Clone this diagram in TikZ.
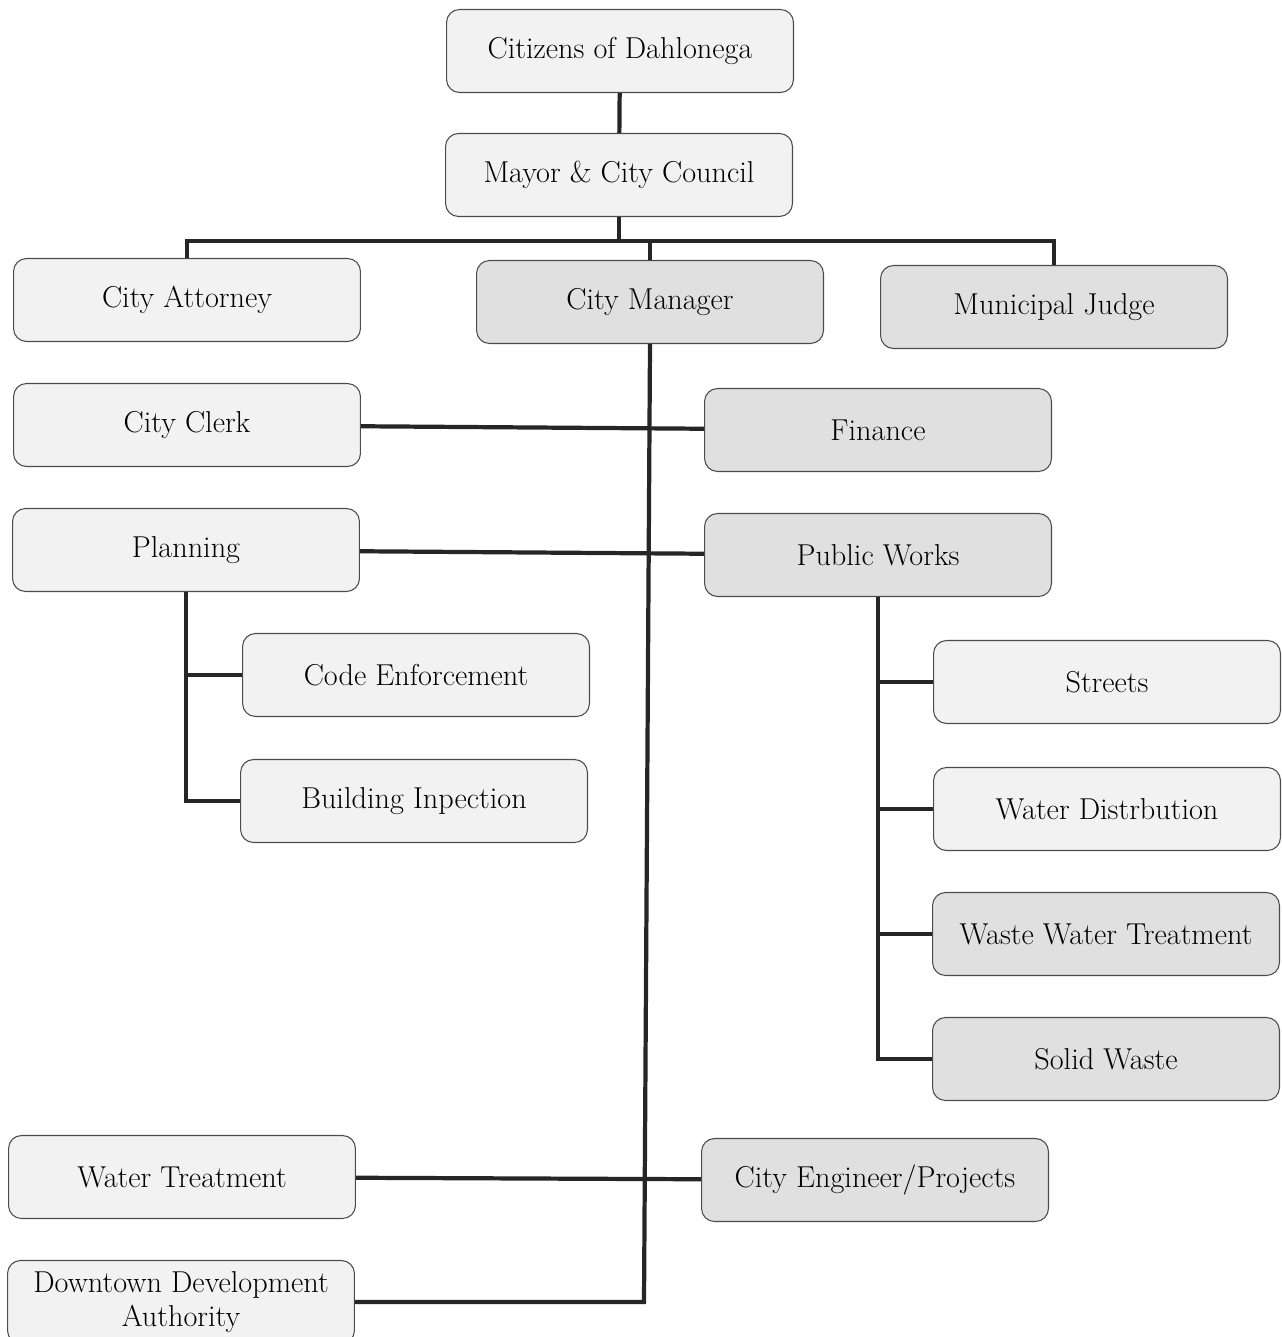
\documentclass[tikz,border=0pt]{standalone}
\usepackage{tikz}

\begin{document}
\begin{tikzpicture}[x=0.02cm, y=-0.02cm,
    unit/.style={draw=black!70, line width=0.6pt, rounded corners=0.26cm,
        minimum width=6.94cm, minimum height=1.66cm, align=center,
        font=\fontsize{17.2}{19}\selectfont},
    pale/.style={unit, fill=black!5},
    dense/.style={unit, fill=black!12},
    link/.style={line width=2.4pt, black!85}]
    \useasboundingbox (0,0) rectangle (1281,1337);

    \node[pale] (cit) at (620, 51) {Citizens of Dahlonega};
    \node[pale] (mayor) at (619, 175) {Mayor \& City Council};
    \node[pale] (att) at (187, 300) {City Attorney};
    \node[dense] (cm) at (650, 302) {City Manager};
    \node[dense] (judge) at (1054, 307) {Municipal Judge};
    \node[pale] (clerk) at (187, 425) {City Clerk};
    \node[dense] (fin) at (878, 430) {Finance};
    \node[pale] (plan) at (186, 550) {Planning};
    \node[dense] (pw) at (878, 555) {Public Works};
    \node[pale] (code) at (416, 675) {Code Enforcement};
    \node[pale] (bldg) at (414, 801) {Building Inpection};
    \node[pale] (str) at (1107, 682) {Streets};
    \node[pale] (wdist) at (1107, 809) {Water Distrbution};
    \node[dense] (wwt) at (1106, 934) {Waste Water Treatment};
    \node[dense] (solid) at (1106, 1059) {Solid Waste};
    \node[pale] (wtr) at (182, 1177) {Water Treatment};
    \node[dense] (eng) at (875, 1180) {City Engineer/Projects};
    \node[pale] (dda) at (181, 1302) {Downtown Development\\Authority};

    \coordinate (bus) at (619, 241);
    \coordinate (trunk) at (644, 1302);

    \draw[link] (cit) -- (mayor);
    \draw[link] (mayor) -- (bus);
    \draw[link] (att.north) |- (bus) -| (judge.north);
    \draw[link] (bus -| cm.north) -- (cm.north);
    \draw[link] (cm.south) -- (trunk) -- (dda.east);

    \draw[link] (clerk) -- (fin);
    \draw[link] (plan) -- (pw);
    \draw[link] (wtr) -- (eng);

    \draw[link] (plan.south) |- (bldg.west);
    \draw[link] (plan.south |- code.west) -- (code.west);

    \draw[link] (pw.south) |- (solid.west);
    \foreach \n in {str, wdist, wwt}
        \draw[link] (pw.south |- \n.west) -- (\n.west);
\end{tikzpicture}
\end{document}
